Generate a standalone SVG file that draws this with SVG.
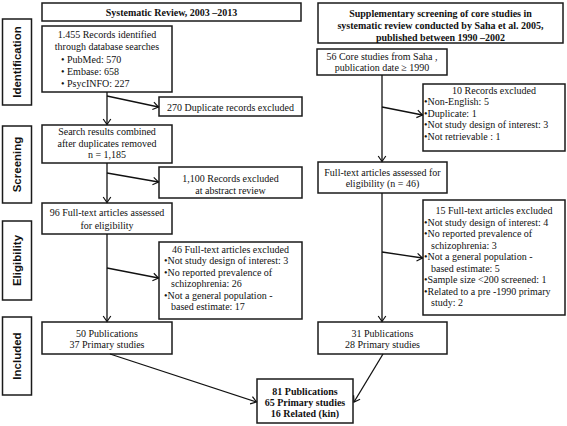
<svg xmlns="http://www.w3.org/2000/svg" width="567" height="426" viewBox="0 0 567 426">
<defs>
<marker id="ah" markerUnits="userSpaceOnUse" viewBox="-7 -5 8 10" refX="0" refY="0" markerWidth="8" markerHeight="10" orient="auto">
<path d="M-5.5,-3.8 L0,0 L-5.5,3.8" fill="none" stroke="#111" stroke-width="1.2"/>
</marker>
</defs>
<style>
.box{fill:#fff;stroke:#1a1a1a;stroke-width:1.5}
.t{font-family:"Liberation Serif","Times New Roman",serif;font-size:10px;fill:#111}
.c{text-anchor:middle}
.b{font-weight:bold}
.stage{font-family:"Liberation Sans",Arial,sans-serif;font-size:11.5px;font-weight:bold;fill:#111;text-anchor:middle}
.ln{fill:none;stroke:#111;stroke-width:1.3;marker-end:url(#ah)}
</style>
<rect width="567" height="426" fill="#fff"/>

<g id="stage-identification"><rect class="box" x="2.5" y="19" width="29" height="86"/><text class="stage" transform="translate(21,62) rotate(-90)">Identification</text></g>
<g id="stage-screening"><rect class="box" x="2.5" y="126" width="29" height="77"/><text class="stage" transform="translate(21,164.5) rotate(-90)">Screening</text></g>
<g id="stage-eligibility"><rect class="box" x="2.5" y="221" width="29" height="79"/><text class="stage" transform="translate(21,260.5) rotate(-90)">Eligibility</text></g>
<g id="stage-included"><rect class="box" x="2.5" y="317" width="29" height="78"/><text class="stage" transform="translate(21,356) rotate(-90)">Included</text></g>

<g id="header-left"><rect class="box" x="42" y="3" width="259" height="18"/><text class="t c b" x="171.5" y="16">Systematic Review, 2003 –2013</text></g>
<g id="header-right"><rect class="box" x="318" y="3" width="245" height="40"/>
<text class="t c b" x="440.5" y="16.5">Supplementary screening of core studies in</text>
<text class="t c b" x="440.5" y="28.5">systematic review conducted by Saha et al. 2005,</text>
<text class="t c b" x="440.5" y="40.5">published between 1990 –2002</text></g>

<g id="records"><rect class="box" x="42" y="26" width="130" height="66"/>
<text class="t c" x="107" y="38">1.455 Records identified</text>
<text class="t c" x="107" y="50">through database searches</text>
<text class="t" x="61" y="63">•  PubMed: 570</text>
<text class="t" x="61" y="75">•  Embase: 658</text>
<text class="t" x="61" y="87">•  PsycINFO: 227</text></g>

<g id="duplicates"><rect class="box" x="159" y="97" width="143" height="19"/><text class="t c" x="230.5" y="110.5">270 Duplicate records excluded</text></g>

<g id="combined"><rect class="box" x="42" y="125" width="130" height="38"/>
<text class="t c" x="107" y="134.5">Search results combined</text>
<text class="t c" x="107" y="146.5">after duplicates removed</text>
<text class="t c" x="107" y="158">n = 1,185</text></g>

<g id="abstract-excluded"><rect class="box" x="159" y="167" width="143" height="31"/>
<text class="t c" x="230.5" y="181.5">1,100 Records excluded</text>
<text class="t c" x="230.5" y="193.5">at abstract review</text></g>

<g id="fulltext-left"><rect class="box" x="42" y="203" width="130" height="31"/>
<text class="t c" x="107" y="216">96 Full-text articles assessed</text>
<text class="t c" x="107" y="228.5">for eligibility</text></g>

<g id="excluded-left"><rect class="box" x="159" y="242" width="143" height="77"/>
<text class="t c" x="230.5" y="252.5">46 Full-text articles excluded</text>
<text class="t" x="164" y="264">•Not study design of interest: 3</text>
<text class="t" x="164" y="275.5">•No reported prevalence of</text>
<text class="t" x="171" y="287">schizophrenia: 26</text>
<text class="t" x="164" y="298.5">•Not a general population -</text>
<text class="t" x="171" y="310">based estimate: 17</text></g>

<g id="included-left"><rect class="box" x="42" y="322" width="130" height="32"/>
<text class="t c" x="107" y="336.5">50 Publications</text>
<text class="t c" x="107" y="348">37 Primary studies</text></g>

<g id="core"><rect class="box" x="317" y="49" width="130" height="26"/>
<text class="t c" x="382" y="59.5">56 Core studies from Saha ,</text>
<text class="t c" x="382" y="71">publication date ≥ 1990</text></g>

<g id="excluded-records-right"><rect class="box" x="423" y="84" width="142" height="67"/>
<text class="t c" x="494" y="93.5">10 Records excluded</text>
<text class="t" x="424" y="105">•Non-English: 5</text>
<text class="t" x="424" y="116.5">•Duplicate: 1</text>
<text class="t" x="424" y="128">•Not study design of interest: 3</text>
<text class="t" x="424" y="139.5">•Not retrievable : 1</text></g>

<g id="fulltext-right"><rect class="box" x="318" y="162" width="129" height="31"/>
<text class="t c" x="382.5" y="175.5">Full-text articles assessed for</text>
<text class="t c" x="382.5" y="187">eligibility (n = 46)</text></g>

<g id="excluded-right"><rect class="box" x="423" y="200" width="142" height="115"/>
<text class="t c" x="494" y="213.5">15 Full-text articles excluded</text>
<text class="t" x="424" y="225.5">•Not study design of interest: 4</text>
<text class="t" x="424" y="237">•No reported prevalence of</text>
<text class="t" x="431" y="248.5">schizophrenia: 3</text>
<text class="t" x="424" y="260">•Not a general population -</text>
<text class="t" x="431" y="271.5">based estimate: 5</text>
<text class="t" x="424" y="283">•Sample size &lt;200 screened: 1</text>
<text class="t" x="424" y="294.5">•Related to a pre -1990 primary</text>
<text class="t" x="431" y="306">study: 2</text></g>

<g id="included-right"><rect class="box" x="318" y="322" width="129" height="32"/>
<text class="t c" x="382.5" y="336.5">31 Publications</text>
<text class="t c" x="382.5" y="348">28 Primary studies</text></g>

<g id="total"><rect class="box" x="257" y="379" width="96" height="44"/>
<text class="t c b" x="305" y="395">81 Publications</text>
<text class="t c b" x="305" y="406">65 Primary studies</text>
<text class="t c b" x="305" y="417">16 Related (kin)</text></g>

<g id="connectors">
<line class="ln" x1="107" y1="92" x2="107" y2="124.5"/>
<line class="ln" x1="107" y1="96" x2="158.5" y2="107"/>
<line class="ln" x1="107" y1="163" x2="107" y2="202.5"/>
<line class="ln" x1="107" y1="173" x2="158.5" y2="182"/>
<line class="ln" x1="107" y1="234" x2="107" y2="321.5"/>
<line class="ln" x1="107" y1="268" x2="158.5" y2="278"/>
<line class="ln" x1="110" y1="354" x2="256.5" y2="402"/>
<line class="ln" x1="382" y1="75" x2="382" y2="161.5"/>
<line class="ln" x1="382" y1="107" x2="422.5" y2="115"/>
<line class="ln" x1="382" y1="193" x2="382" y2="321.5"/>
<line class="ln" x1="382" y1="252" x2="422.5" y2="258"/>
<line class="ln" x1="383" y1="354" x2="354" y2="402"/>
</g>
</svg>
